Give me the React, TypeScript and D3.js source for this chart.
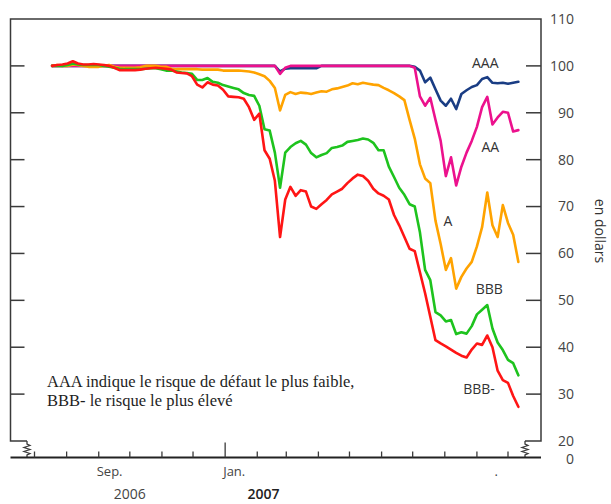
import React from "react";
import * as d3 from "d3";

const dates = ["2006-07-18","2006-07-23","2006-07-28","2006-08-02","2006-08-07","2006-08-12","2006-08-17","2006-08-22","2006-08-27","2006-09-01","2006-09-06","2006-09-11","2006-09-16","2006-09-21","2006-09-26","2006-10-01","2006-10-06","2006-10-11","2006-10-16","2006-10-21","2006-10-26","2006-10-31","2006-11-05","2006-11-10","2006-11-15","2006-11-20","2006-11-25","2006-11-30","2006-12-05","2006-12-10","2006-12-15","2006-12-20","2006-12-25","2006-12-30","2007-01-04","2007-01-09","2007-01-14","2007-01-19","2007-01-24","2007-01-29","2007-02-03","2007-02-08","2007-02-13","2007-02-18","2007-02-23","2007-02-28","2007-03-05","2007-03-10","2007-03-15","2007-03-20","2007-03-25","2007-03-30","2007-04-04","2007-04-09","2007-04-14","2007-04-19","2007-04-24","2007-04-29","2007-05-04","2007-05-09","2007-05-14","2007-05-19","2007-05-24","2007-05-29","2007-06-03","2007-06-08","2007-06-13","2007-06-18","2007-06-23","2007-06-28","2007-07-03","2007-07-08","2007-07-13","2007-07-18","2007-07-23","2007-07-28","2007-08-02","2007-08-07","2007-08-12","2007-08-17","2007-08-22","2007-08-27","2007-09-01","2007-09-06","2007-09-11","2007-09-16","2007-09-21","2007-09-26","2007-10-01","2007-10-06","2007-10-11"];

const aaa = [
  100,100,100,100,100,100,100,100,100,100,
  100,100,100,100,100,100,100,100,100,100,
  100,100,100,100,100,100,100,100,100,100,
  100,100,100,100,100,100,100,100,100,100,
  100,100,100,100,98.8,99.4,99.5,99.5,99.5,99.5,
  99.5,99.5,100,100,100,100,100,100,100,100,
  100,100,100,100,100,100,100,100,100,100,
  99.8,99,96.5,97.5,95,92.6,91.5,93,90.8,94,
  94.8,95.5,95.9,97.2,97.6,96.4,96.3,96.4,96.2,96.4,96.6
];

const aa = [
  100,100,100,100,100,100,100,100,100,100,
  100,100,100,100,100,100,100,100,100,100,
  100,100,100,100,100,100,100,100,100,100,
  100,100,100,100,100,100,100,100,100,100,
  100,100,100,100,98.3,99.6,100,100,100,100,
  100,100,100,100,100,100,100,100,100,100,
  100,100,100,100,100,100,100,100,100,100,
  99.6,93.5,91.5,93.2,88.5,84,76.5,80.5,74.5,78.5,
  81.5,84,87,91.2,93.4,87.5,89,90.2,90,86,86.3
];

const a = [
  100,100.2,100,100,100.3,100.2,100,99.8,99.8,99.8,
  100,100.2,99.8,99.6,99.6,99.6,99.6,99.7,100,100,
  100,99.8,99.8,99.4,99.3,99.3,99.3,99.3,99.3,99.2,
  99.2,99.2,99.2,99,99,99,99,98.9,98.8,98.6,
  98.2,97.8,96.8,95.3,90.5,93.8,94.4,94,94.3,94.2,
  94,94.3,94.6,94.5,95,95.2,95.5,95.8,96.3,96.1,
  96.4,96.2,96,95.9,95.3,94.8,94.2,93.5,92.7,88.5,
  84.5,79,76,75,67,62,56.5,59,52.5,55,
  56.8,58.2,61.5,65.6,73,66,63.5,70.3,66.5,64,58.2
];

const bbb = [
  100,100,100,100.2,100.5,100.3,100.2,100.2,100.2,100.2,
  100,99.8,99.6,99.4,99.3,99.3,99.3,99.3,99.4,99.5,
  99.5,99.3,99,99,98.8,98.6,98.5,98.3,97,97,
  97.4,96.6,96.4,95.9,95.6,95.3,95,94.2,93.8,93.6,
  91.5,86.5,86.2,81.5,74,81.5,82.7,83.5,84,83.2,
  81.4,80.5,81,81.4,82.5,82.7,83,83.8,84,84.2,
  84.5,84.3,83.6,82,82,78.5,76.3,74,72.5,70.5,
  70,64.5,56.5,54.3,47.5,46.8,45.5,45.8,42.8,43.2,
  42.9,44.5,47,48,49,44,41,39.4,37.3,36.6,34
];

const bbbMinus = [
  100,100.2,100.3,100.5,101,100.5,100.3,100.3,100.4,100.3,
  100.2,100,99.6,99.1,99.1,99.1,99.1,99.2,99.4,99.5,
  99.6,99.5,99.4,99.2,98.6,98.5,98.4,97.8,96,95.4,
  96.5,96,95.8,94.9,93.5,93.4,93.3,93,91.2,88.5,
  89.8,82,80.2,75.5,63.5,71.5,74.2,72.3,73.5,73.2,
  70,69.5,70.5,71.4,72.6,73.2,73.8,75,76,76.8,
  76.5,75.5,73.8,72.8,72.3,71.5,68.2,66,63.5,61,
  60.5,56,51.5,46.5,41.5,40.8,40.2,39.5,38.8,38.2,
  37.8,39.5,40.8,40.5,42.5,40,35,33,32.4,29.6,27.3
];

const seriesNames = ["AAA", "AA", "A", "BBB", "BBB-"];
const seriesValues = [aaa, aa, a, bbb, bbbMinus];
const seriesColors = ["#1a3d84", "#ec118d", "#ffa300", "#1ec31e", "#ff1515"];
const seriesLabelDates = ["2007-09-09", "2007-09-14", "2007-08-04", "2007-09-13", "2007-09-03"];
const seriesLabelValues = [100.6, 82.6, 66.8, 52.5, 31.0];

const yTickValues = [20, 30, 40, 50, 60, 70, 80, 90, 100, 110];
const xMonthStart = "2006-07-01";
const xMonthEnd = "2007-10-01";
const xLabelDates = ["2006-09-01", "2007-01-01", "2007-09-20"];
const xLabelTexts = ["Sep.", "Jan.", "."];
const yearLabelDates = ["2006-10-01", "2007-02-07"];
const yearLabelTexts = ["2006", "2007"];
const noteLines = ["AAA indique le risque de défaut le plus faible,", "BBB- le risque le plus élevé"];

const parse = d3.timeParse("%Y-%m-%d");

export default function App() {
  const W = 611, H = 504;
  const left = 10.5, right = 541, top = 19, bottom = 441, base = 457.5;
  const x = d3.scaleTime().domain([parse(xMonthStart)!, parse(xMonthEnd)!]).range([34.5, 508]);
  const y = d3.scaleLinear().domain([20, 110]).range([bottom, top]);
  const parsed = dates.map((d) => parse(d)!);
  const line = d3
    .line<number>()
    .x((_, i) => x(parsed[i]))
    .y((v) => y(v))
    .curve(d3.curveLinear);
  const months = d3.timeMonth.range(parse(xMonthStart)!, d3.timeDay.offset(parse(xMonthEnd)!, 1));
  const axisColor = "#3a3a3a";
  const sans = "'Open Sans', 'DejaVu Sans', sans-serif";
  const zig = (zx: number) =>
    `M${zx},${bottom} L${zx},${bottom + 3} l3,1.5 l-6,2 l6,2 l-6,2 l6,2 l-3,1.5 L${zx},${base}`;
  const leftBreak = 27;
  const rightBreak = 525;

  return (
    <svg width={W} height={H} style={{ position: "absolute", left: 0, top: 0, background: "#fff" }}>
      <rect x={0} y={0} width={W} height={H} fill="#fff" />
      <path
        d={`M${leftBreak},${bottom} L${left},${bottom} L${left},${top} L${right},${top} L${right},${bottom} L${rightBreak},${bottom}`}
        fill="none"
        stroke={axisColor}
        strokeWidth={1.5}
      />
      <path d={zig(leftBreak)} fill="none" stroke={axisColor} strokeWidth={1.3} />
      <path d={zig(rightBreak)} fill="none" stroke={axisColor} strokeWidth={1.3} />
      <line x1={left} x2={right} y1={base} y2={base} stroke="#222" strokeWidth={2} />
      {yTickValues.filter((v) => v > 20 && v < 110).map((v) => (
        <g key={v}>
          <line x1={right - 15} x2={right} y1={y(v)} y2={y(v)} stroke={axisColor} strokeWidth={1.5} />
          <line x1={left} x2={left + 14} y1={y(v)} y2={y(v)} stroke={axisColor} strokeWidth={1.5} />
        </g>
      ))}
      {yTickValues.map((v) => (
        <text key={"l" + v} x={574} y={y(v)} dy="0.35em" textAnchor="end" fontFamily={sans} fontSize={14} fill="#444">
          {v}
        </text>
      ))}
      <text x={574} y={base + 1.5} dy="0.35em" textAnchor="end" fontFamily={sans} fontSize={14} fill="#444">0</text>
      <text
        transform={`translate(595,231) rotate(90)`}
        textAnchor="middle"
        fontFamily={sans}
        fontSize={14}
        fill="#333"
      >
        en dollars
      </text>
      {months.map((m, i) => {
        const major = m.getMonth() === 0;
        return (
          <line
            key={i}
            x1={x(m)}
            x2={x(m)}
            y1={base}
            y2={base - (major ? 15 : 6)}
            stroke={axisColor}
            strokeWidth={1.3}
          />
        );
      })}
      {xLabelDates.map((d, i) => (
        <text key={d} x={x(parse(d)!) - 2} y={476} fontFamily={sans} fontSize={13} fill="#444">
          {xLabelTexts[i]}
        </text>
      ))}
      {yearLabelDates.map((d, i) => (
        <text
          key={d}
          x={x(parse(d)!)}
          y={499}
          textAnchor="middle"
          fontFamily={sans}
          fontSize={14}
          fontWeight={i === 1 ? 600 : 400}
          fill={i === 1 ? "#222" : "#444"}
        >
          {yearLabelTexts[i]}
        </text>
      ))}
      {seriesValues.map((vals, i) => (
        <path
          key={seriesNames[i]}
          d={line(vals) || ""}
          fill="none"
          stroke={seriesColors[i]}
          strokeWidth={2.6}
          strokeLinejoin="round"
          strokeLinecap="round"
        />
      ))}
      {seriesNames.map((n, i) => (
        <text
          key={"t" + n}
          x={x(parse(seriesLabelDates[i])!)}
          y={y(seriesLabelValues[i])}
          dy="0.35em"
          textAnchor="middle"
          fontFamily={sans}
          fontSize={14}
          fill="#333"
        >
          {n}
        </text>
      ))}
      {noteLines.map((t, i) => (
        <text key={i} x={47} y={387 + i * 19} fontFamily="'Liberation Serif', 'Times New Roman', serif" fontSize={16.5} fill="#1e1e1e">
          {t}
        </text>
      ))}
    </svg>
  );
}
